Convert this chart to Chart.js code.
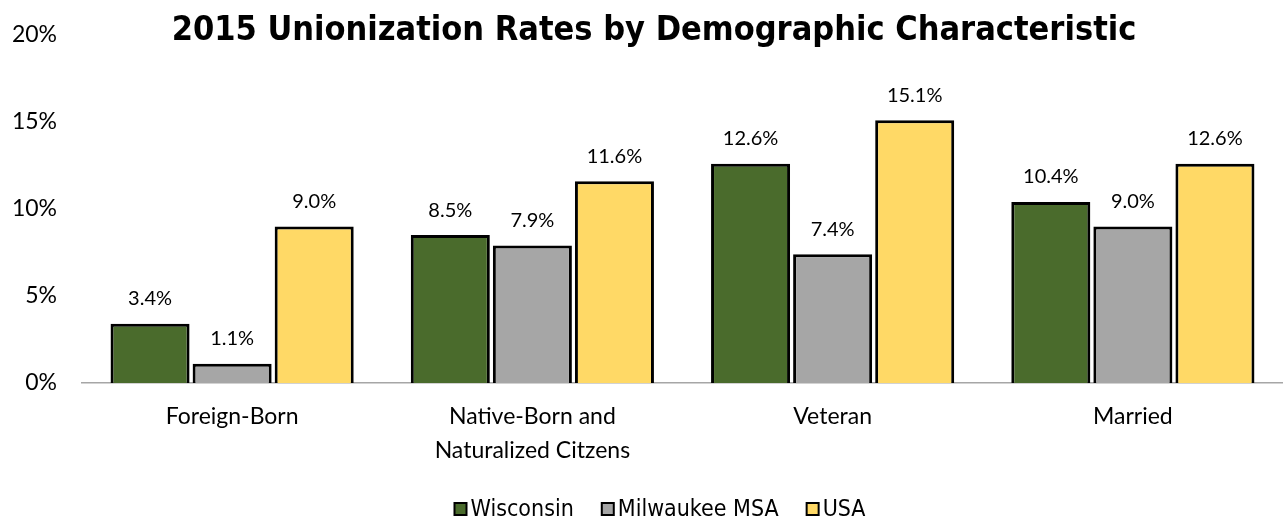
<!DOCTYPE html>
<html>
<head>
<meta charset="utf-8">
<script src="https://cdn.jsdelivr.net/npm/chart.js@4"></script>
<style>
  html, body { margin: 0; padding: 0; background: #fff; }
  #wrap { width: 1283px; height: 521px; }
</style>
</head>
<body>
<div id="wrap"><canvas id="chart" width="1283" height="521"></canvas></div>
<script>
var categories = [["Foreign-Born"], ["Native-Born and", "Naturalized Citzens"], ["Veteran"], ["Married"]];
var wisconsin = [3.4, 8.5, 12.6, 10.4];
var milwaukee = [1.1, 7.9, 7.4, 9.0];
var usa = [9.0, 11.6, 15.1, 12.6];
var yTicks = [0, 5, 10, 15, 20];

var titleText = "2015 Unionization Rates by Demographic Characteristic";

var titlePlugin = {
    id: "topTitle",
    afterDraw: function (chart) {
        var ctx = chart.ctx;
        ctx.save();
        ctx.font = "bold 34px 'DejaVu Sans Condensed', 'DejaVu Sans'";
        ctx.fillStyle = "#000";
        ctx.textAlign = "center";
        ctx.textBaseline = "middle";
        ctx.fillText(titleText, 654, 31);
        ctx.restore();
    }
};

// legend drawn by hand: tight gap between swatch and text like the original
var legendPlugin = {
    id: "tightLegend",
    afterDraw: function (chart) {
        var ctx = chart.ctx;
        ctx.save();
        ctx.font = "23px 'DejaVu Sans Condensed', 'DejaVu Sans'";
        ctx.textBaseline = "middle";
        ctx.textAlign = "left";
        var box = 12, gapText = 4, gapItem = 28, y = 509;
        var ds = chart.data.datasets;
        var widths = ds.map(function (d) { return ctx.measureText(d.label).width; });
        var total = 0;
        widths.forEach(function (w, i) { total += box + gapText + w + (i < widths.length - 1 ? gapItem : 0); });
        var x = 660 - total / 2;
        ds.forEach(function (d, i) {
            ctx.fillStyle = d.backgroundColor;
            ctx.fillRect(x, y - box / 2, box, box);
            ctx.strokeStyle = "#000";
            ctx.lineWidth = 2;
            ctx.strokeRect(x, y - box / 2, box, box);
            ctx.fillStyle = "#000";
            ctx.fillText(d.label, x + box + gapText, y + 1);
            x += box + gapText + widths[i] + gapItem;
        });
        ctx.restore();
    }
};

var valueLabels = {
    id: "valueLabels",
    afterDatasetsDraw: function (chart) {
        var ctx = chart.ctx;
        ctx.save();
        ctx.font = "20px Lato";
        ctx.fillStyle = "#000";
        ctx.textAlign = "center";
        ctx.textBaseline = "bottom";
        chart.data.datasets.forEach(function (ds, i) {
            chart.getDatasetMeta(i).data.forEach(function (bar, j) {
                ctx.fillText(ds.data[j].toFixed(1) + "%", bar.x, bar.y - 15);
            });
        });
        ctx.restore();
    }
};

new Chart(document.getElementById("chart").getContext("2d"), {
    type: "bar",
    data: {
        labels: categories,
        datasets: [
            { label: "Wisconsin", data: wisconsin, backgroundColor: "#4a6b2c" },
            { label: "Milwaukee MSA", data: milwaukee, backgroundColor: "#a6a6a6" },
            { label: "USA", data: usa, backgroundColor: "#ffd966" }
        ]
    },
    options: {
        responsive: false,
        animation: false,
        layout: { padding: { top: 35, right: 0, left: 0, bottom: 0 } },
        datasets: {
            bar: {
                borderColor: "#000",
                borderWidth: 3,
                categoryPercentage: 0.82,
                barPercentage: 0.963
            }
        },
        scales: {
            x: {
                grid: { display: false, drawTicks: false },
                border: { display: true, color: "#a6a6a6", width: 1.5 },
                ticks: { color: "#000", font: { family: "Lato", size: 23, lineHeight: 1.5 }, padding: 16 },
                afterFit: function (axis) { axis.height = 138; }
            },
            y: {
                min: 0,
                max: 20,
                grid: { display: false, drawTicks: false },
                border: { display: false },
                afterBuildTicks: function (axis) {
                    axis.ticks = yTicks.map(function (v) { return { value: v }; });
                },
                ticks: {
                    color: "#000",
                    font: { family: "Lato", size: 23 },
                    padding: 25,
                    callback: function (v) { return v + "%"; }
                },
                afterFit: function (axis) {
                    axis.width = 82;
                    axis.paddingTop = 0;
                    axis.paddingBottom = 0;
                }
            }
        },
        plugins: {
            title: { display: false },
            tooltip: { enabled: false },
            legend: { display: false }
        }
    },
    plugins: [titlePlugin, valueLabels, legendPlugin]
});
</script>
</body>
</html>
